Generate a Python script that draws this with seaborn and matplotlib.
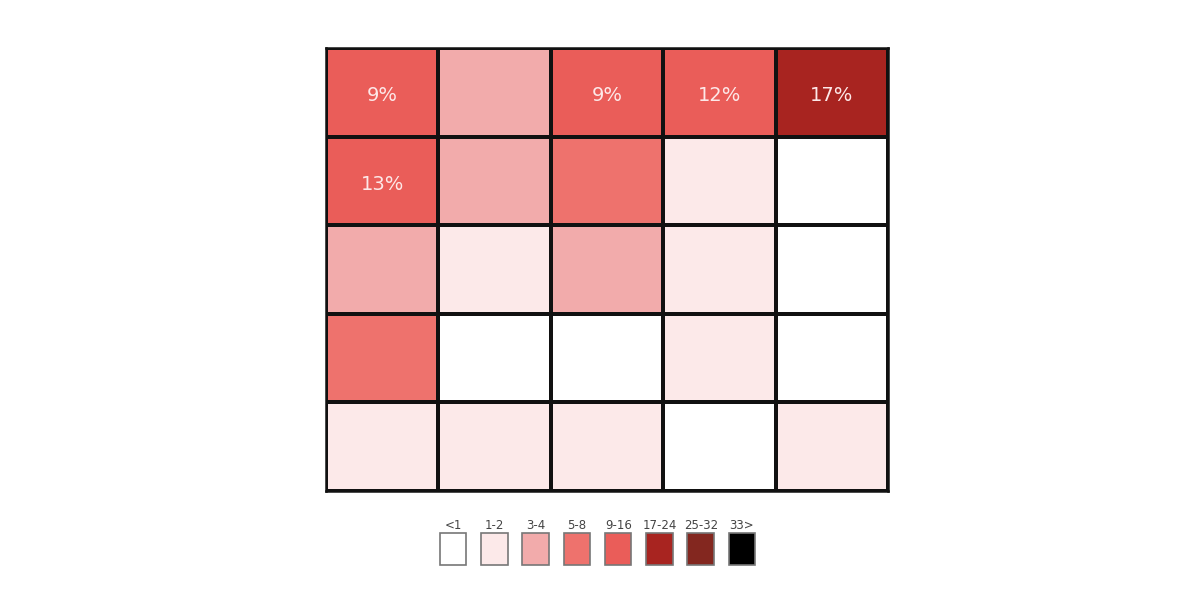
"""
5x5 share heatmap with a binned colour key underneath
"""

import numpy as np
import matplotlib
matplotlib.use('Agg')
import matplotlib.pyplot as plt
from matplotlib.colors import ListedColormap, BoundaryNorm
from matplotlib.patches import Rectangle
import seaborn as sns

# cell values in percent (unlabelled cells estimated from their bin)
row1 = [9, 3.5, 9, 12, 17]
row2 = [13, 3.5, 6, 1.5, 0.5]
row3 = [3.5, 1.5, 3.5, 1.5, 0.5]
row4 = [6, 0.5, 0.5, 1.5, 0.5]
row5 = [1.5, 1.5, 1.5, 0.5, 1.5]

# key bins and colours
bin_labels = ['<1', '1-2', '3-4', '5-8', '9-16', '17-24', '25-32', '33>']
bin_edges = [0, 1, 3, 5, 9, 17, 25, 33, 100]
bin_colors = ['#ffffff', '#fce9e9', '#f2abab', '#ee726d',
              '#ea5d59', '#a82420', '#83271f', '#000000']

# only the big cells carry a label
LABEL_MIN = 9

values = np.array([row1, row2, row3, row4, row5])
labels = np.where(values >= LABEL_MIN,
                  np.char.add(values.astype(int).astype(str), '%'), '')

cmap = ListedColormap(bin_colors)
norm = BoundaryNorm(bin_edges, cmap.N)

fig = plt.figure(figsize=(12, 6.01), dpi=100)
sns.set_style('white')
plt.rcParams['font.family'] = ['DejaVu Sans']

ax = fig.add_axes([0.2717, 0.183, 0.4683, 0.737])
sns.heatmap(values, ax=ax, cmap=cmap, norm=norm, cbar=False,
            annot=labels, fmt='', linewidths=1.5, linecolor='#111111',
            annot_kws={'color': '#fde8e8', 'fontsize': 14})
# nudge the labels down a touch, as in the original
for t in ax.texts:
    x, y = t.get_position()
    t.set_position((x, y + 0.04))
ax.set_xticks([])
ax.set_yticks([])
for s in ax.spines.values():
    s.set_visible(True)
    s.set_color('#111111')
    s.set_linewidth(1.8)

# colour key
kax = fig.add_axes([0.3658, 0.0585, 0.275, 0.085])
kax.set_xlim(0, len(bin_labels) * 42)
kax.set_ylim(0, 51)
kax.axis('off')
for i, (lab, col) in enumerate(zip(bin_labels, bin_colors)):
    x0 = i * 42 + 1
    kax.add_patch(Rectangle((x0, 1), 27, 32, facecolor=col,
                            edgecolor='#777777', linewidth=1.2))
    kax.text(x0 + 13.5, 34, lab, ha='center', va='bottom',
             fontsize=8.5, color='#444444')

plt.savefig('out.png', dpi=100)
